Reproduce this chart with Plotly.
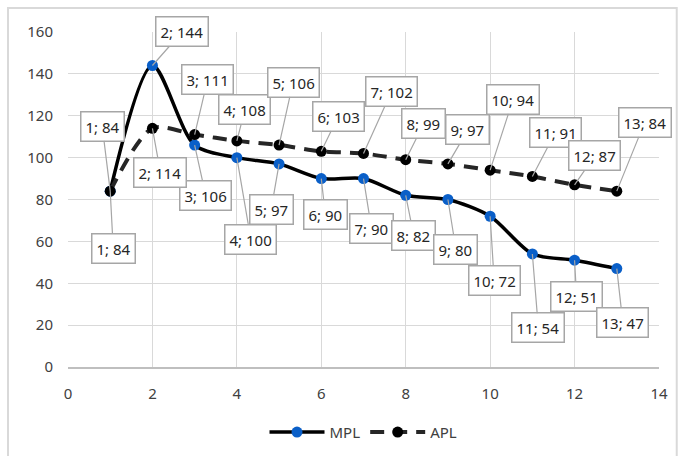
import plotly.graph_objects as go

# Period index shared by both series
periods = [1, 2, 3, 4, 5, 6, 7, 8, 9, 10, 11, 12, 13]
mpl_values = [84, 144, 106, 100, 97, 90, 90, 82, 80, 72, 54, 51, 47]
apl_values = [84, 114, 111, 108, 106, 103, 102, 99, 97, 94, 91, 87, 84]

# Callout box offsets (pixels, relative to the data point)
mpl_label_offsets = [(3, 57), (30, -34), (11, 50), (14, 82), (-8, 46), (4, 36), (8, 50),
                     (8, 40), (8, 50), (4, 64), (6, 74), (2, 36), (6, 54)]
apl_label_offsets = [(-8, -65), (8, 44), (13, -55), (8, -31), (14, -63), (17, -35), (28, -62),
                     (18, -36), (20, -34), (23, -71), (23, -44), (20, -29), (28, -69)]

FONT = "Noto Sans"
GRID = "#d9d9d9"

fig = go.Figure()

fig.add_trace(go.Scatter(
    x=periods, y=mpl_values, name="MPL", mode="lines+markers",
    line=dict(color="#000000", width=3.5, shape="spline", smoothing=0.8),
    marker=dict(color="#0a5fc8", size=11),
))
fig.add_trace(go.Scatter(
    x=periods, y=apl_values, name="APL", mode="lines+markers",
    line=dict(color="#262626", width=4, dash="14px,9px", shape="spline", smoothing=0.8),
    marker=dict(color="#000000", size=11),
))

annotations = []
for xs, ys, offs in ((periods, mpl_values, mpl_label_offsets),
                     (periods, apl_values, apl_label_offsets)):
    for x, y, (dx, dy) in zip(xs, ys, offs):
        annotations.append(dict(
            x=x, y=y, xref="x", yref="y",
            text=f"{x}; {y}", showarrow=True, ax=dx, ay=dy,
            arrowhead=0, arrowwidth=1.2, arrowcolor="#a6a6a6",
            bgcolor="#ffffff", bordercolor="#a6a6a6", borderwidth=1.5, borderpad=4,
            font=dict(family=FONT, size=15, color="#262626"),
        ))

fig.update_layout(
    width=679, height=456,
    margin=dict(l=68, r=20, t=32, b=89, autoexpand=False),
    paper_bgcolor="#ffffff", plot_bgcolor="#ffffff",
    font=dict(family=FONT, size=15, color="#404040"),
    showlegend=True,
    legend=dict(orientation="h", x=0.5, xanchor="center", y=-0.195, yanchor="middle",
                font=dict(family=FONT, size=15, color="#404040"), itemwidth=55),
    annotations=annotations,
    shapes=[dict(type="rect", xref="paper", yref="paper",
                 x0=-0.1015, x1=1.03, y0=-0.3, y1=1.0716,
                 line=dict(color=GRID, width=2), fillcolor="rgba(0,0,0,0)", layer="below")],
)

fig.update_xaxes(range=[0, 14], dtick=2, tick0=0, showgrid=True, gridcolor=GRID, gridwidth=1,
                 zeroline=False, showline=True, linecolor="#bfbfbf", linewidth=1.5,
                 ticks="", ticklabelstandoff=12, mirror=False)
fig.update_yaxes(range=[0, 160], dtick=20, tick0=0, showgrid=True, gridcolor=GRID, gridwidth=1,
                 zeroline=False, showline=False, ticks="", ticklabelstandoff=14)

fig.write_html("out.html")
